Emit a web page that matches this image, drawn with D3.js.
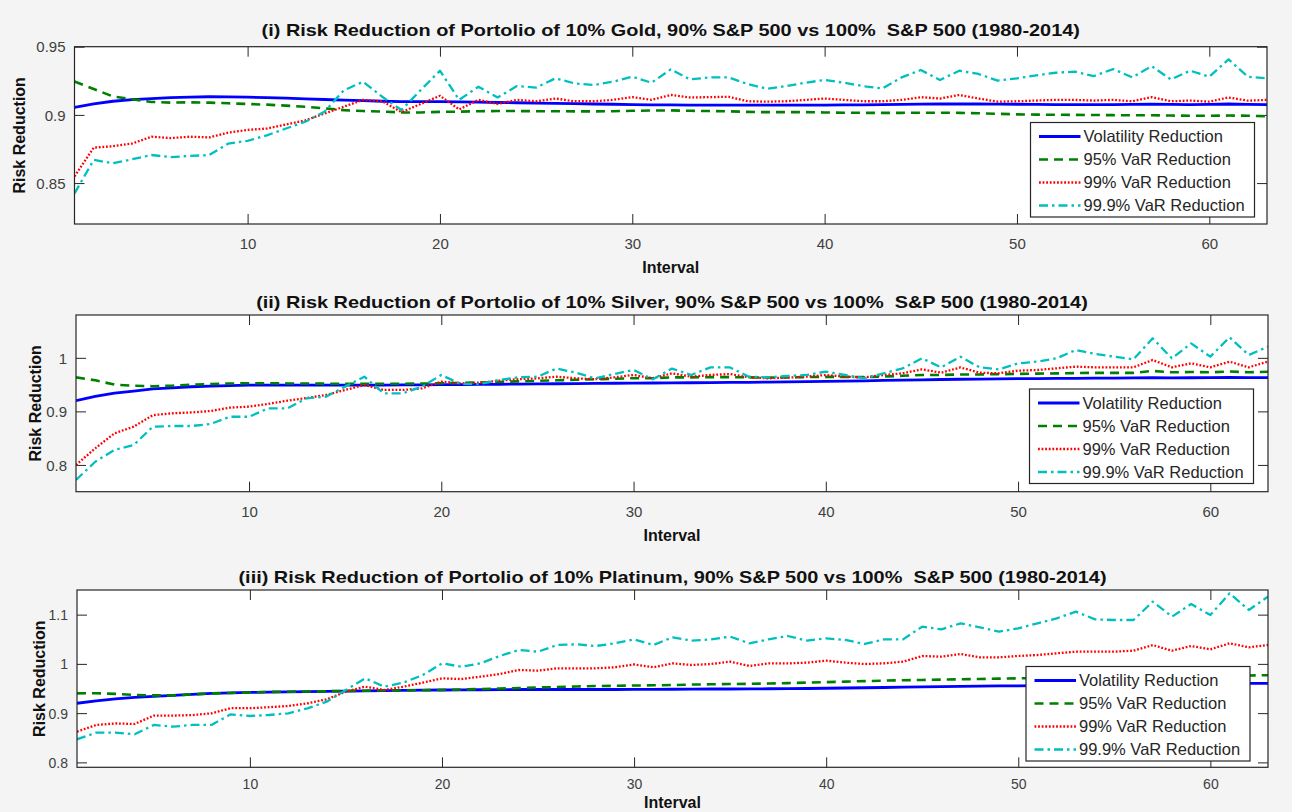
<!DOCTYPE html>
<html><head><meta charset="utf-8">
<script src="https://cdn.jsdelivr.net/npm/d3@7"></script>
<style>
html,body{margin:0;padding:0;background:#f4f4f4;}
svg{display:block;font-family:"Liberation Sans",Arial,Helvetica,sans-serif;}
</style></head><body>
<svg id="chart" width="1292" height="812"></svg>
<script>
// ---------- data ----------
const intervals = d3.range(1, 64);
const xTicks = [10, 20, 30, 40, 50, 60];
const seriesNames = ["Volatility Reduction", "95% VaR Reduction", "99% VaR Reduction", "99.9% VaR Reduction"];
const panelTitles = [
  "(i) Risk Reduction of Portolio of 10% Gold, 90% S&P 500 vs 100%  S&P 500 (1980-2014)",
  "(ii) Risk Reduction of Portolio of 10% Silver, 90% S&P 500 vs 100%  S&P 500 (1980-2014)",
  "(iii) Risk Reduction of Portolio of 10% Platinum, 90% S&P 500 vs 100%  S&P 500 (1980-2014)"
];
const yAxisLabel = "Risk Reduction";
const xAxisLabel = "Interval";

const yTicksGold = [0.85, 0.9, 0.95];
const yTicksSilver = [0.8, 0.9, 1];
const yTicksPlatinum = [0.8, 0.9, 1, 1.1];
const yDomainGold = [0.82, 0.95];
const yDomainSilver = [0.75, 1.08];
const yDomainPlatinum = [0.79, 1.15];

// Gold
const goldVol = [0.9055,0.9080,0.9100,0.9112,0.9120,0.9126,0.9130,0.9133,0.9132,0.9130,0.9127,0.9123,0.9118,0.9113,0.9108,0.9104,0.9100,0.9098,0.9097,0.9097,0.9095,0.9093,0.9091,0.9089,0.9087,0.9085,0.9083,0.9080,0.9078,0.9076,0.9074,0.9073,0.9072,0.9072,0.9071,0.9071,0.9071,0.9071,0.9072,0.9072,0.9073,0.9074,0.9075,0.9077,0.9079,0.9080,0.9080,0.9080,0.9079,0.9078,0.9077,0.9076,0.9075,0.9075,0.9076,0.9077,0.9078,0.9077,0.9076,0.9077,0.9080,0.9077,0.9076];
const goldVaR95 = [0.9245,0.9190,0.9135,0.9115,0.9095,0.9090,0.9092,0.9090,0.9085,0.9080,0.9075,0.9068,0.9060,0.9048,0.9035,0.9028,0.9024,0.9018,0.9018,0.9022,0.9024,0.9027,0.9028,0.9028,0.9027,0.9027,0.9026,0.9026,0.9027,0.9030,0.9032,0.9033,0.9030,0.9028,0.9026,0.9022,0.9020,0.9020,0.9020,0.9018,0.9016,0.9015,0.9015,0.9015,0.9016,0.9016,0.9015,0.9012,0.9008,0.9004,0.9002,0.9001,0.9000,0.8999,0.8998,0.8997,0.8997,0.8995,0.8994,0.8994,0.8995,0.8994,0.8990];
const goldVaR99 = [0.855,0.876,0.877,0.879,0.884,0.883,0.884,0.8835,0.887,0.889,0.890,0.893,0.896,0.901,0.906,0.911,0.910,0.902,0.908,0.914,0.904,0.911,0.908,0.911,0.910,0.912,0.910,0.910,0.911,0.913,0.911,0.9146,0.9128,0.913,0.9133,0.910,0.9097,0.910,0.911,0.912,0.911,0.910,0.910,0.911,0.913,0.912,0.9146,0.912,0.9097,0.910,0.9105,0.911,0.911,0.9105,0.911,0.910,0.913,0.910,0.9105,0.9097,0.9128,0.9104,0.911];
const goldVaR999 = [0.8424,0.867,0.8645,0.8675,0.8706,0.869,0.870,0.8705,0.879,0.881,0.885,0.890,0.895,0.9023,0.918,0.9243,0.9133,0.9036,0.9182,0.9324,0.911,0.9207,0.9128,0.9211,0.920,0.9268,0.9231,0.9219,0.9243,0.928,0.9236,0.9334,0.926,0.9275,0.9275,0.9226,0.9192,0.9211,0.9236,0.9256,0.9236,0.9211,0.9194,0.9275,0.9329,0.9256,0.9324,0.930,0.9251,0.9268,0.929,0.9309,0.9317,0.9285,0.9336,0.9275,0.9358,0.926,0.9324,0.928,0.9407,0.928,0.9268];

// Silver
const silverVol = [0.920,0.928,0.934,0.938,0.942,0.944,0.946,0.947,0.948,0.949,0.949,0.949,0.949,0.949,0.949,0.949,0.9492,0.9494,0.9496,0.9498,0.950,0.9503,0.9506,0.951,0.9513,0.9516,0.9519,0.9522,0.9525,0.9528,0.953,0.9533,0.9535,0.9538,0.954,0.9543,0.9546,0.955,0.9555,0.956,0.9565,0.957,0.9578,0.9585,0.959,0.9595,0.960,0.9603,0.9606,0.961,0.9612,0.9615,0.9617,0.962,0.9622,0.9624,0.9628,0.9626,0.9628,0.963,0.9635,0.9632,0.9632];
const silverVaR95 = [0.9636,0.958,0.950,0.948,0.947,0.948,0.950,0.951,0.952,0.9525,0.9525,0.9522,0.952,0.9518,0.9515,0.9515,0.9515,0.9515,0.952,0.9525,0.953,0.954,0.955,0.956,0.957,0.958,0.959,0.960,0.961,0.962,0.962,0.9635,0.9635,0.964,0.964,0.9635,0.963,0.9635,0.964,0.9645,0.9645,0.964,0.965,0.9665,0.968,0.968,0.969,0.969,0.9695,0.970,0.9705,0.971,0.9715,0.972,0.972,0.972,0.9755,0.973,0.9735,0.973,0.9745,0.973,0.974];
const silverVaR99 = [0.800,0.831,0.859,0.8715,0.893,0.8964,0.898,0.9007,0.907,0.9088,0.914,0.920,0.925,0.9306,0.940,0.9493,0.940,0.940,0.943,0.9555,0.9524,0.9536,0.9573,0.960,0.9617,0.9648,0.9617,0.960,0.9636,0.968,0.9617,0.9711,0.9648,0.968,0.9698,0.9636,0.9617,0.963,0.9648,0.968,0.9648,0.9636,0.968,0.9711,0.9785,0.9723,0.982,0.9723,0.9711,0.976,0.9773,0.9804,0.9835,0.9823,0.9823,0.9823,0.996,0.9823,0.9897,0.9823,0.9929,0.9823,0.9929];
const silverVaR999 = [0.7719,0.806,0.828,0.8372,0.8715,0.8727,0.8727,0.8765,0.890,0.890,0.9057,0.9057,0.9244,0.9275,0.9462,0.9648,0.9337,0.9337,0.9462,0.968,0.9512,0.9512,0.9586,0.9636,0.9648,0.980,0.9723,0.9617,0.9698,0.9773,0.960,0.980,0.968,0.9823,0.9823,0.9648,0.9636,0.9661,0.968,0.9742,0.968,0.9617,0.9711,0.9804,0.9991,0.9823,1.0022,0.9823,0.9785,0.9897,0.9929,0.9991,1.0146,1.0072,1.0022,0.9972,1.0364,0.9991,1.0271,1.0022,1.0383,1.0053,1.0209];

// Platinum
const platinumVol = [0.920,0.925,0.929,0.932,0.934,0.936,0.938,0.940,0.941,0.942,0.9425,0.943,0.9435,0.944,0.9445,0.945,0.9455,0.946,0.9465,0.947,0.9472,0.9475,0.9478,0.948,0.948,0.948,0.948,0.948,0.948,0.9483,0.9483,0.9485,0.9487,0.949,0.949,0.9492,0.9495,0.9497,0.950,0.9505,0.951,0.9515,0.952,0.9528,0.9535,0.954,0.9545,0.955,0.9553,0.9555,0.9557,0.956,0.9565,0.957,0.9575,0.958,0.9585,0.9588,0.959,0.9595,0.960,0.9603,0.9606];
const platinumVaR95 = [0.940,0.9405,0.939,0.937,0.936,0.936,0.938,0.940,0.941,0.942,0.943,0.9435,0.944,0.9445,0.945,0.9455,0.946,0.946,0.9465,0.947,0.948,0.949,0.950,0.951,0.952,0.953,0.954,0.955,0.9555,0.956,0.9565,0.957,0.958,0.9585,0.959,0.9595,0.960,0.961,0.962,0.963,0.964,0.965,0.966,0.9667,0.9673,0.968,0.9687,0.9693,0.970,0.9707,0.971,0.9715,0.972,0.9725,0.973,0.9735,0.974,0.9745,0.975,0.9755,0.976,0.9765,0.977];
const platinumVaR99 = [0.8624,0.876,0.879,0.878,0.895,0.895,0.896,0.8996,0.910,0.910,0.912,0.9145,0.920,0.928,0.9436,0.9537,0.947,0.9537,0.9618,0.9706,0.9692,0.974,0.9794,0.9876,0.9862,0.991,0.991,0.991,0.993,0.999,0.993,1.001,0.9977,0.9997,1.0045,0.9957,1.001,1.001,1.0025,1.0065,1.0025,0.9997,1.001,1.0045,1.016,1.0146,1.020,1.0133,1.0133,1.016,1.018,1.0214,1.0248,1.0248,1.0248,1.0268,1.0383,1.0268,1.0363,1.0295,1.0417,1.0336,1.0383];
const platinumVaR999 = [0.8468,0.8603,0.8603,0.857,0.876,0.8725,0.876,0.876,0.8975,0.8942,0.8962,0.8996,0.9097,0.9233,0.947,0.9706,0.9537,0.962,0.9774,1.001,0.9943,1.001,1.016,1.0282,1.0248,1.0383,1.0397,1.0363,1.0417,1.0498,1.0383,1.0539,1.0471,1.0498,1.0553,1.0417,1.0498,1.0566,1.0471,1.0519,1.0485,1.0404,1.0498,1.0498,1.0756,1.0701,1.0823,1.0742,1.0654,1.0722,1.0823,1.0925,1.106,1.0904,1.0891,1.0891,1.1263,1.0959,1.1216,1.0992,1.1432,1.1094,1.1365];

// ---------- styles / layout ----------
const seriesStyles = [
  {color: "#0000ff", width: 2.8, dash: null},
  {color: "#008000", width: 2.6, dash: "9,6"},
  {color: "#ff0000", width: 2.3, dash: "1.8,1.8"},
  {color: "#00bfbf", width: 2.3, dash: "9,4,2.5,4"}
];

const panels = [
  {title: panelTitles[0], yDomain: yDomainGold, yTicks: yTicksGold,
   series: [goldVol, goldVaR95, goldVaR99, goldVaR999],
   L: 74.5, R: 1267, T: 46.7, B: 224, titleY: 30, tickFont: 15, xTickDy: 19.5, xLabelY: 267, yLabelX: 19, legX: 1030.5, legY: 122.5},
  {title: panelTitles[1], yDomain: yDomainSilver, yTicks: yTicksSilver,
   series: [silverVol, silverVaR95, silverVaR99, silverVaR999],
   L: 76, R: 1268, T: 315, B: 491.7, titleY: 301.7, tickFont: 15, xTickDy: 20, xLabelY: 535, yLabelX: 35, legX: 1029.5, legY: 389},
  {title: panelTitles[2], yDomain: yDomainPlatinum, yTicks: yTicksPlatinum,
   series: [platinumVol, platinumVaR95, platinumVaR99, platinumVaR999],
   L: 77, R: 1268, T: 590, B: 767.3, titleY: 576.7, tickFont: 14, xTickDy: 16.5, xLabelY: 802.5, yLabelX: 39, legX: 1026, legY: 666.5}
];

const svg = d3.select("#chart");
const frameColor = "#262626";
const tickLen = 10;

panels.forEach((p, pi) => {
  const g = svg.append("g");
  const x = d3.scaleLinear().domain([1, 63]).range([p.L, p.R]);
  const y = d3.scaleLinear().domain(p.yDomain).range([p.B, p.T]);

  g.append("rect").attr("x", p.L).attr("y", p.T).attr("width", p.R - p.L).attr("height", p.B - p.T)
    .attr("fill", "#ffffff");

  const fmt = d => String(d);
  const axB = g.append("g").attr("transform", `translate(0,${p.B})`)
    .call(d3.axisBottom(x).tickValues(xTicks).tickSizeInner(-tickLen).tickSizeOuter(0).tickPadding(0).tickFormat(fmt));
  const axT = g.append("g").attr("transform", `translate(0,${p.T})`)
    .call(d3.axisTop(x).tickValues(xTicks).tickSizeInner(-tickLen).tickSizeOuter(0).tickFormat(""));
  const axL = g.append("g").attr("transform", `translate(${p.L},0)`)
    .call(d3.axisLeft(y).tickValues(p.yTicks).tickSizeInner(-tickLen).tickSizeOuter(0).tickFormat(fmt));
  const axR = g.append("g").attr("transform", `translate(${p.R},0)`)
    .call(d3.axisRight(y).tickValues(p.yTicks).tickSizeInner(-tickLen).tickSizeOuter(0).tickFormat(""));
  [axB, axT, axL, axR].forEach(a => {
    a.select(".domain").remove();
    a.selectAll(".tick line").attr("stroke", frameColor).attr("stroke-width", 1);
    a.selectAll(".tick text").attr("fill", "#404040")
      .style("font-size", p.tickFont + "px").style("font-family", "'Liberation Sans', Arial, sans-serif");
  });
  axB.selectAll(".tick text").attr("y", p.xTickDy).attr("dy", "0.35em");
  axL.selectAll(".tick text").attr("x", -9).attr("dy", "0.35em");

  const clipId = "clip" + pi;
  g.append("clipPath").attr("id", clipId).append("rect")
    .attr("x", p.L).attr("y", p.T).attr("width", p.R - p.L).attr("height", p.B - p.T);
  const line = d3.line().x((d, i) => x(intervals[i])).y(d => y(d));
  const lg = g.append("g").attr("clip-path", `url(#${clipId})`);
  p.series.forEach((vals, si) => {
    const st = seriesStyles[si];
    lg.append("path").datum(vals).attr("d", line)
      .attr("fill", "none").attr("stroke", st.color).attr("stroke-width", st.width)
      .attr("stroke-dasharray", st.dash).attr("stroke-linejoin", "round");
  });

  g.append("rect").attr("x", p.L).attr("y", p.T).attr("width", p.R - p.L).attr("height", p.B - p.T)
    .attr("fill", "none").attr("stroke", frameColor).attr("stroke-width", 1.2);

  // title (horizontally widened like the reference)
  g.append("text").attr("transform", `translate(${(p.L + p.R) / 2},${p.titleY}) scale(1.17,1)`)
    .attr("dy", "0.35em")
    .attr("text-anchor", "middle").style("font-weight", "bold").style("font-size", "17px")
    .style("white-space", "pre").attr("fill", "#111").text(p.title);

  g.append("text").attr("x", (p.L + p.R) / 2).attr("y", p.xLabelY).attr("dy", "0.35em")
    .attr("text-anchor", "middle").style("font-weight", "bold").style("font-size", "16px")
    .attr("fill", "#111").text(xAxisLabel);
  g.append("text").attr("transform", `translate(${p.yLabelX},${(p.T + p.B) / 2}) rotate(-90)`)
    .attr("dy", "0.35em").attr("text-anchor", "middle").style("font-weight", "bold").style("font-size", "16px")
    .attr("fill", "#111").text(yAxisLabel);

  const leg = g.append("g").attr("transform", `translate(${p.legX},${p.legY})`);
  leg.append("rect").attr("width", 224).attr("height", 94.5).attr("fill", "#fff")
    .attr("stroke", frameColor).attr("stroke-width", 1.2);
  seriesNames.forEach((name, si) => {
    const st = seriesStyles[si];
    const cy = 14 + si * 23;
    leg.append("line").attr("x1", 8.5).attr("x2", 50).attr("y1", cy).attr("y2", cy)
      .attr("stroke", st.color).attr("stroke-width", st.width).attr("stroke-dasharray", st.dash);
    leg.append("text").attr("x", 53).attr("y", cy).attr("dy", "0.35em")
      .style("font-size", "16.5px").attr("fill", "#262626").text(name);
  });
});
</script>
</body></html>
